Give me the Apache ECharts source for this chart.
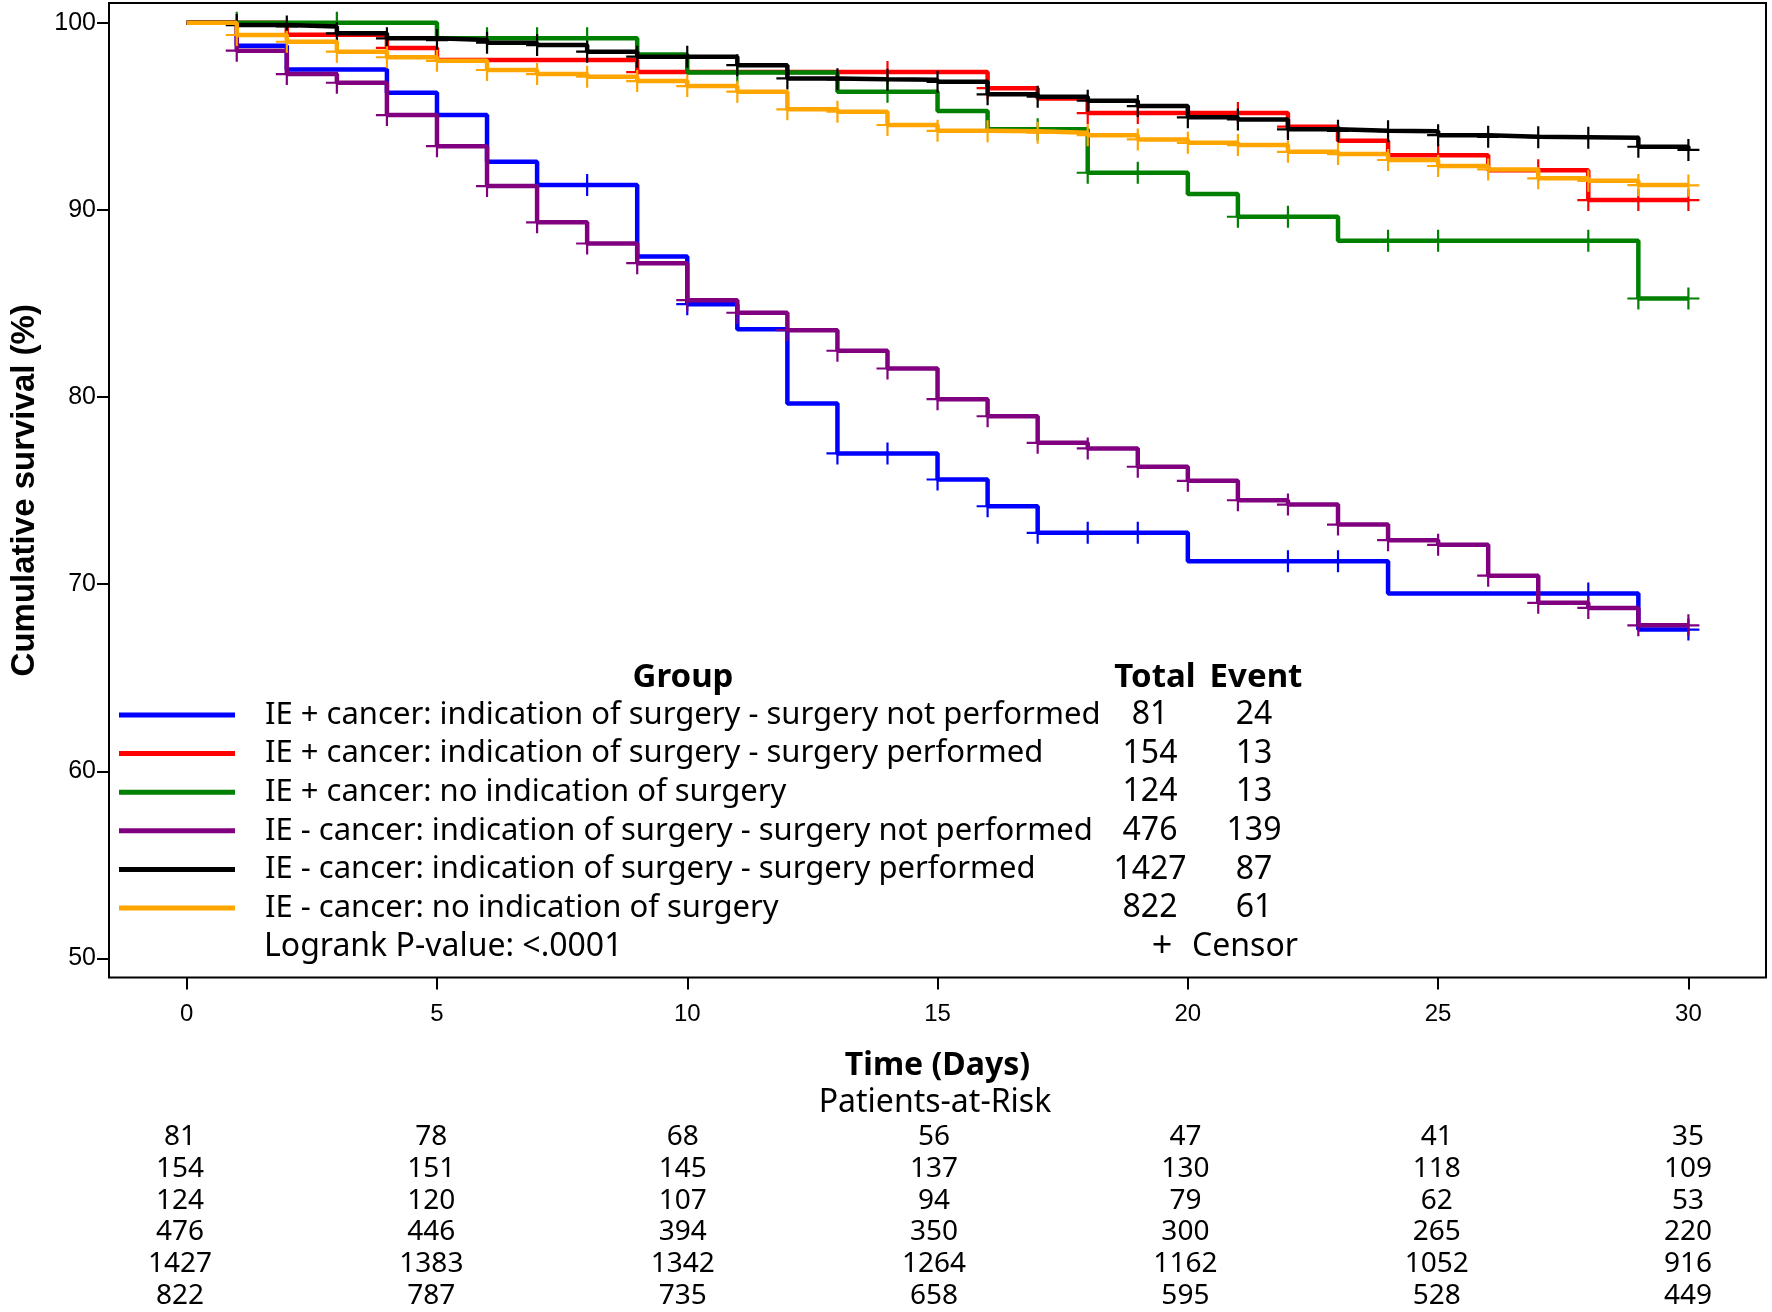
<!DOCTYPE html>
<html>
<head>
<meta charset="utf-8">
<script src="https://cdn.jsdelivr.net/npm/echarts@6/dist/echarts.min.js"></script>
<style>
html,body{margin:0;padding:0;background:#fff;}
#c{width:1772px;height:1312px;}
</style>
</head>
<body>
<div id="c"></div>
<script>
const days = [0,1,2,3,4,5,6,7,8,9,10,11,12,13,14,15,16,17,18,19,20,21,22,23,24,25,26,27,28,29,30];

const groupNames = [
  'IE + cancer: indication of surgery - surgery not performed',
  'IE + cancer: indication of surgery - surgery performed',
  'IE + cancer: no indication of surgery',
  'IE - cancer: indication of surgery - surgery not performed',
  'IE - cancer: indication of surgery - surgery performed',
  'IE - cancer: no indication of surgery'
];
const totals = [81, 154, 124, 476, 1427, 822];
const events = [24, 13, 13, 139, 87, 61];
const colors = ['#0000FF', '#FF0000', '#008000', '#800080', '#000000', '#FFA500'];

// survival (%) at each day 0..30
const survBlue   = [100,98.77,97.5,97.5,96.25,95.06,92.57,91.33,91.33,87.5,84.96,83.62,79.65,76.98,76.98,75.59,74.16,72.74,72.74,72.74,71.22,71.22,71.22,71.22,69.5,69.5,69.5,69.5,69.5,67.57,67.57];
const survRed    = [100,100,99.35,99.35,98.65,98.0,98.0,98.0,98.0,97.36,97.36,97.36,97.36,97.36,97.36,97.36,96.5,95.95,95.17,95.17,95.17,95.17,94.44,93.69,92.92,92.92,92.12,92.12,90.52,90.52,90.52];
const survGreen  = [100,100,100,100,100,99.17,99.17,99.17,99.17,98.3,97.34,97.34,97.34,96.31,96.31,95.28,94.3,94.3,91.98,91.98,90.84,89.63,89.63,88.34,88.34,88.34,88.34,88.34,88.34,85.26,85.26];
const survPurple = [100,98.5,97.25,96.79,95.06,93.4,91.27,89.33,88.2,87.15,85.17,84.5,83.57,82.47,81.52,79.88,78.97,77.55,77.25,76.27,75.52,74.48,74.25,73.18,72.35,72.1,70.45,69.0,68.73,67.8,67.8];
const survBlack  = [100,99.87,99.8,99.43,99.16,99.07,98.93,98.8,98.45,98.18,98.18,97.73,97.02,96.97,96.95,96.84,96.17,96.04,95.83,95.54,94.94,94.83,94.3,94.22,94.2,93.99,93.9,93.88,93.85,93.37,93.2];
const survOrange = [100,99.34,98.98,98.45,98.15,97.96,97.47,97.25,97.11,96.88,96.61,96.31,95.37,95.24,94.53,94.22,94.2,94.12,93.99,93.76,93.58,93.46,93.1,92.98,92.66,92.34,92.16,91.68,91.55,91.32,91.3];

// censor times (days)
const censorBlue   = [8,10,13,14,15,16,17,18,19,22,23,28,30];
const censorRed    = [4,9,14,16,18,19,21,22,25,27,28,29,30];
const censorGreen  = [1,3,6,7,8,11,14,17,18,19,21,22,24,25,28,29,30];
const censorPurple = [1,2,3,4,5,6,7,8,9,10,11,12,13,14,15,16,17,18,19,20,21,22,23,24,25,26,27,28,29,30];
const censorBlack  = [1,2,3,4,5,6,7,8,9,10,11,12,13,14,15,16,17,18,19,20,21,22,23,24,25,26,27,28,29,30];
const censorOrange = [1,2,3,4,5,6,7,8,9,10,11,12,13,14,15,16,17,18,19,20,21,22,23,24,25,26,27,28,29,30];

// patients at risk
const riskTimes = [0,5,10,15,20,25,30];
const riskBlue   = [81,78,68,56,47,41,35];
const riskRed    = [154,151,145,137,130,118,109];
const riskGreen  = [124,120,107,94,79,62,53];
const riskPurple = [476,446,394,350,300,265,220];
const riskBlack  = [1427,1383,1342,1264,1162,1052,916];
const riskOrange = [822,787,735,658,595,528,449];

const xTicks = [0,5,10,15,20,25,30];
const yTicks = [50,60,70,80,90,100];

const survAll = [survBlue, survRed, survGreen, survPurple, survBlack, survOrange];
const censorAll = [censorBlue, censorRed, censorGreen, censorPurple, censorBlack, censorOrange];
const riskAll = [riskBlue, riskRed, riskGreen, riskPurple, riskBlack, riskOrange];

const plusPath = 'path://M-1,-10 L1,-10 L1,10 L-1,10 Z M-10,-1 L10,-1 L10,1 L-10,1 Z';

const series = [];
survAll.forEach((s, i) => {
  series.push({
    name: groupNames[i],
    type: 'line',
    step: 'end',
    xAxisIndex: 0, yAxisIndex: 0,
    data: days.map((d, k) => [d, s[k]]),
    showSymbol: false,
    symbol: 'none',
    lineStyle: { color: colors[i], width: 4.5 },
    itemStyle: { color: colors[i] },
    z: 2 + i,
    silent: true,
    animation: false
  });
});
censorAll.forEach((c, i) => {
  series.push({
    name: 'censor' + i,
    type: 'scatter',
    xAxisIndex: 0, yAxisIndex: 0,
    data: c.map(t => [t, survAll[i][days.indexOf(t)]]),
    symbol: plusPath,
    symbolSize: 22,
    itemStyle: { color: colors[i], opacity: 1 },
    z: 2 + i,
    silent: true,
    animation: false
  });
});
const riskData = [];
riskAll.forEach((r, i) => {
  r.forEach((v, k) => riskData.push([riskTimes[k], i, v]));
});
series.push({
  name: 'risk',
  type: 'scatter',
  xAxisIndex: 1, yAxisIndex: 1,
  data: riskData,
  symbolSize: 0,
  itemStyle: { opacity: 1 },
  label: {
    show: true, position: 'inside', opacity: 1,
    formatter: p => String(p.value[2]),
    fontFamily: 'Noto Sans', fontSize: 28, color: '#000'
  },
  silent: true,
  animation: false
});

const chart = echarts.init(document.getElementById('c'), null, { renderer: 'canvas' });
const F = '"Noto Sans"';
chart.setOption({
  backgroundColor: '#fff',
  animation: false,
  grid: [
    { left: 102, right: 6, top: 3, bottom: 334.5, show: true, borderColor: '#000', borderWidth: 2, backgroundColor: 'transparent' },
    { left: 102, right: 6, top: 1121, bottom: -4 }
  ],
  xAxis: [
    {
      type: 'value', gridIndex: 0, min: -1.552, max: 31.55,
      axisLine: { show: false, onZero: false },
      axisTick: { show: true, inside: false, length: 12, lineStyle: { color: '#000', width: 2 }, customValues: xTicks },
      axisLabel: { show: true, margin: 25, fontFamily: 'Liberation Sans', fontSize: 24, color: '#000', customValues: xTicks },
      splitLine: { show: false },
      name: 'Time (Days)', nameLocation: 'middle', nameGap: 72,
      nameTextStyle: { fontFamily: 'Noto Sans', fontWeight: 'bold', fontSize: 32, color: '#000' }
    },
    { type: 'value', gridIndex: 1, min: -1.552, max: 31.55, show: false }
  ],
  yAxis: [
    {
      type: 'value', gridIndex: 0, min: 48.98, max: 101.05,
      axisLine: { show: false, onZero: false },
      axisTick: { show: true, inside: false, length: 12, lineStyle: { color: '#000', width: 2 }, customValues: yTicks },
      axisLabel: { show: true, margin: 13, fontFamily: 'Liberation Sans', fontSize: 25, color: '#000', customValues: yTicks },
      splitLine: { show: false },
      name: 'Cumulative survival (%)', nameLocation: 'middle', nameGap: 68,
      nameTextStyle: { fontFamily: 'Liberation Sans', fontWeight: 'bold', fontSize: 33, color: '#000' }
    },
    { type: 'category', gridIndex: 1, data: ['r0','r1','r2','r3','r4','r5'], inverse: true, show: false }
  ],
  legend: {
    data: groupNames,
    orient: 'vertical',
    left: 119, top: 698,
    padding: 0,
    itemGap: 4.6,
    itemWidth: 116, itemHeight: 5,
    icon: 'rect',
    selectedMode: false,
    textStyle: {
      fontFamily: 'Noto Sans', fontSize: 31, color: '#000', lineHeight: 34,
      rich: {
        s: { width: 25 },
        a: { width: 845, fontFamily: 'Noto Sans', fontSize: 31, color: '#000', lineHeight: 34 },
        b: { width: 80, align: 'center', fontFamily: 'Noto Sans', fontSize: 32, color: '#000', lineHeight: 34 },
        c: { width: 128, align: 'center', fontFamily: 'Noto Sans', fontSize: 32, color: '#000', lineHeight: 34 }
      }
    },
    formatter: name => {
      const i = groupNames.indexOf(name);
      return '{s|}{a|' + name + '}{b|' + totals[i] + '}{c|' + events[i] + '}';
    }
  },
  graphic: [
    { type: 'text', x: 683, y: 678, style: { text: 'Group', font: 'bold 33px ' + F, fill: '#000', textAlign: 'center', textVerticalAlign: 'middle' } },
    { type: 'text', x: 1155, y: 678, style: { text: 'Total', font: 'bold 33px ' + F, fill: '#000', textAlign: 'center', textVerticalAlign: 'middle' } },
    { type: 'text', x: 1256, y: 678, style: { text: 'Event', font: 'bold 33px ' + F, fill: '#000', textAlign: 'center', textVerticalAlign: 'middle' } },
    { type: 'text', x: 264, y: 947, style: { text: 'Logrank P-value: <.0001', font: '32px ' + F, fill: '#000', textAlign: 'left', textVerticalAlign: 'middle' } },
    { type: 'text', x: 1162, y: 947, style: { text: '+', font: '36px ' + F, fill: '#000', textAlign: 'center', textVerticalAlign: 'middle' } },
    { type: 'text', x: 1192, y: 947, style: { text: 'Censor', font: '32px ' + F, fill: '#000', textAlign: 'left', textVerticalAlign: 'middle' } },
    { type: 'text', x: 935, y: 1103, style: { text: 'Patients-at-Risk', font: '32px ' + F, fill: '#000', textAlign: 'center', textVerticalAlign: 'middle' } }
  ],
  series: series
});
</script>
</body>
</html>
